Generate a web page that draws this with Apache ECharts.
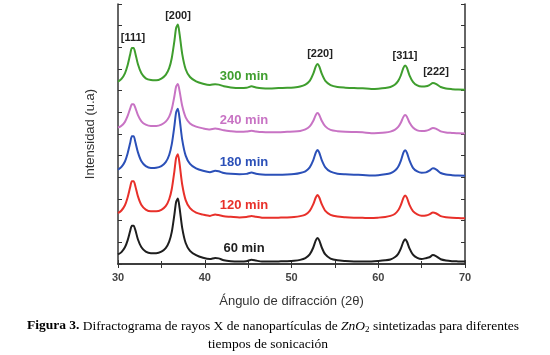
<!DOCTYPE html>
<html>
<head>
<meta charset="utf-8">
<script src="https://cdn.jsdelivr.net/npm/echarts@6/dist/echarts.min.js"></script>
<style>
  html, body { margin: 0; padding: 0; background: #fff; }
  #chart { width: 550px; height: 355px; }
</style>
</head>
<body>
<div id="chart"></div>
<script>
// 2theta grid (degrees)
var angle = [30, 30.4, 30.8, 31.1, 31.4, 31.6, 31.8, 32.0, 32.3, 32.7, 33.2, 33.8, 34.4, 35.0, 35.5, 35.9, 36.2, 36.5, 36.7, 36.9, 37.1, 37.4, 37.8, 38.3, 39.0, 39.8, 40.6, 41.2, 41.6, 42.2, 43.0, 44.0, 44.8, 45.4, 45.9, 46.6, 47.5, 48.5, 49.5, 50.3, 51.0, 51.6, 52.1, 52.5, 52.8, 53.0, 53.2, 53.5, 53.9, 54.5, 55.3, 56.2, 57.2, 58.2, 59.2, 60.0, 60.8, 61.4, 61.9, 62.3, 62.6, 62.9, 63.1, 63.3, 63.6, 64.0, 64.5, 65.0, 65.5, 65.9, 66.3, 66.7, 67.2, 67.8, 68.5, 69.2, 70];

// intensidades (u.a), ya desplazadas verticalmente como en la figura
var min60 = [0.44, 0.55, 0.77, 1.08, 1.52, 1.77, 1.77, 1.57, 1.13, 0.77, 0.57, 0.5, 0.5, 0.57, 0.73, 1.03, 1.48, 2.28, 2.86, 3.02, 2.58, 1.67, 0.97, 0.61, 0.41, 0.29, 0.23, 0.28, 0.26, 0.17, 0.13, 0.12, 0.13, 0.2, 0.16, 0.11, 0.11, 0.12, 0.13, 0.15, 0.19, 0.27, 0.44, 0.75, 1.09, 1.2, 1.09, 0.75, 0.44, 0.25, 0.17, 0.14, 0.12, 0.115, 0.12, 0.14, 0.17, 0.21, 0.31, 0.47, 0.71, 1.03, 1.14, 1.04, 0.72, 0.43, 0.28, 0.23, 0.27, 0.31, 0.41, 0.35, 0.22, 0.16, 0.13, 0.12, 0.11];
var min120 = [2.35, 2.47, 2.71, 3.06, 3.54, 3.82, 3.82, 3.59, 3.12, 2.72, 2.51, 2.43, 2.43, 2.5, 2.67, 2.99, 3.46, 4.28, 4.9, 5.07, 4.62, 3.67, 2.95, 2.58, 2.37, 2.28, 2.22, 2.29, 2.26, 2.2, 2.18, 2.15, 2.17, 2.22, 2.18, 2.14, 2.13, 2.14, 2.15, 2.17, 2.21, 2.28, 2.45, 2.75, 3.07, 3.18, 3.07, 2.75, 2.45, 2.27, 2.19, 2.16, 2.14, 2.13, 2.12, 2.14, 2.17, 2.22, 2.31, 2.48, 2.72, 3.05, 3.16, 3.06, 2.73, 2.44, 2.29, 2.23, 2.24, 2.29, 2.38, 2.33, 2.21, 2.16, 2.13, 2.12, 2.11];
var min180 = [4.35, 4.48, 4.73, 5.09, 5.58, 5.9, 5.9, 5.63, 5.15, 4.74, 4.52, 4.43, 4.44, 4.52, 4.7, 5.03, 5.53, 6.36, 7.0, 7.17, 6.71, 5.74, 5.0, 4.62, 4.41, 4.3, 4.24, 4.3, 4.28, 4.2, 4.16, 4.14, 4.16, 4.22, 4.17, 4.13, 4.12, 4.12, 4.13, 4.15, 4.2, 4.28, 4.46, 4.78, 5.14, 5.26, 5.14, 4.78, 4.46, 4.26, 4.17, 4.14, 4.12, 4.11, 4.09, 4.1, 4.14, 4.19, 4.3, 4.49, 4.76, 5.14, 5.25, 5.14, 4.78, 4.44, 4.27, 4.21, 4.23, 4.31, 4.42, 4.36, 4.2, 4.13, 4.1, 4.08, 4.07];
var min240 = [6.29, 6.38, 6.56, 6.82, 7.17, 7.37, 7.37, 7.21, 6.87, 6.58, 6.43, 6.37, 6.37, 6.43, 6.57, 6.8, 7.15, 7.74, 8.19, 8.31, 7.98, 7.3, 6.77, 6.49, 6.34, 6.26, 6.21, 6.25, 6.23, 6.17, 6.13, 6.1, 6.11, 6.15, 6.12, 6.09, 6.08, 6.08, 6.1, 6.11, 6.14, 6.21, 6.35, 6.6, 6.88, 6.97, 6.88, 6.6, 6.35, 6.19, 6.13, 6.1, 6.09, 6.08, 6.04, 6.05, 6.07, 6.11, 6.19, 6.33, 6.52, 6.79, 6.88, 6.8, 6.53, 6.3, 6.17, 6.14, 6.15, 6.2, 6.28, 6.24, 6.12, 6.07, 6.05, 6.03, 6.02];
var min300 = [8.41, 8.54, 8.8, 9.16, 9.67, 9.97, 9.97, 9.72, 9.22, 8.8, 8.57, 8.49, 8.48, 8.56, 8.73, 9.04, 9.51, 10.29, 10.89, 11.05, 10.61, 9.7, 8.99, 8.63, 8.43, 8.32, 8.26, 8.3, 8.28, 8.2, 8.15, 8.12, 8.13, 8.2, 8.15, 8.11, 8.1, 8.12, 8.13, 8.15, 8.19, 8.28, 8.45, 8.77, 9.12, 9.23, 9.12, 8.77, 8.45, 8.26, 8.17, 8.14, 8.12, 8.11, 8.08, 8.09, 8.12, 8.17, 8.27, 8.45, 8.7, 9.05, 9.16, 9.06, 8.71, 8.41, 8.24, 8.19, 8.2, 8.26, 8.35, 8.3, 8.17, 8.1, 8.07, 8.05, 8.04];

var seriesNames = ['60 min', '120 min', '180 min', '240 min', '300 min'];
var seriesColors = ['#1e1e1e', '#e8302a', '#2b50b8', '#c873c4', '#3f9e2e'];
var peakLabels = ['[111]', '[200]', '[220]', '[311]', '[222]'];

var chart = echarts.init(document.getElementById('chart'));

function pairs(ys) {
    return angle.map(function (a, i) { return [a, ys[i]]; });
}
var allData = [min60, min120, min180, min240, min300];

var axisCol = '#333';
var option = {
    animation: false,
    grid: { left: 118, top: 4, width: 347, height: 260 },
    xAxis: [
        {
            type: 'value', min: 30, max: 70, interval: 10, position: 'bottom',
            axisLine: { lineStyle: { color: axisCol, width: 1.5 } },
            axisTick: { inside: true, length: 4, lineStyle: { color: axisCol } },
            minorTick: { show: true, splitNumber: 2, length: 3, lineStyle: { color: axisCol } },
            axisLabel: { color: '#444', fontSize: 11, fontWeight: 'bold', fontFamily: 'Liberation Sans', margin: 8 },
            splitLine: { show: false },
            name: 'Ángulo de difracción (2θ)', nameLocation: 'middle', nameGap: 31,
            nameTextStyle: { color: '#333', fontSize: 13, fontFamily: 'Liberation Sans' }
        },
        {
            type: 'value', min: 30, max: 70, interval: 5, position: 'top',
            axisLine: { lineStyle: { color: axisCol, width: 1.5 } },
            axisTick: { inside: true, length: 4, lineStyle: { color: axisCol } },
            axisLabel: { show: false }, splitLine: { show: false }
        }
    ],
    yAxis: [
        {
            type: 'value', min: 0, max: 12, interval: 1, position: 'left',
            axisLine: { show: true, lineStyle: { color: axisCol, width: 1.5 } },
            axisTick: { show: true, inside: true, length: 4, lineStyle: { color: axisCol } },
            axisLabel: { show: false }, splitLine: { show: false },
            name: 'Intensidad (u.a)', nameLocation: 'middle', nameGap: 21, nameRotate: 90,
            nameTextStyle: { color: '#333', fontSize: 13, fontFamily: 'Liberation Sans' }
        },
        {
            type: 'value', min: 0, max: 12, interval: 1, position: 'right',
            axisLine: { show: true, lineStyle: { color: axisCol, width: 1.5 } },
            axisTick: { show: true, inside: true, length: 4, lineStyle: { color: axisCol } },
            axisLabel: { show: false }, splitLine: { show: false }
        }
    ],
    series: allData.map(function (ys, k) {
        return {
            name: seriesNames[k], type: 'line', xAxisIndex: 0, yAxisIndex: 0,
            data: pairs(ys), showSymbol: false, smooth: 0.25,
            lineStyle: { color: seriesColors[k], width: 2 }
        };
    }),
    graphic: []
};

// etiquetas de tiempo
var timeY = [248, 205, 162, 120, 76];
seriesNames.forEach(function (n, k) {
    option.graphic.push({
        type: 'text', x: 244, y: timeY[k],
        style: { text: n, fill: seriesColors[k], font: 'bold 13px "Liberation Sans"', textAlign: 'center', textVerticalAlign: 'middle' }
    });
});

// índices de Miller
var peakPos = [[133, 38], [178, 16], [320, 54], [405, 56], [436, 72]];
peakLabels.forEach(function (t, k) {
    option.graphic.push({
        type: 'text', x: peakPos[k][0], y: peakPos[k][1],
        style: { text: t, fill: '#222', font: 'bold 11px "Liberation Sans"', textAlign: 'center', textVerticalAlign: 'middle' }
    });
});

// pie de figura
option.graphic.push({
    type: 'text', x: 273, y: 326,
    style: {
        text: '{b|Figura 3.}{n| Difractograma de rayos X de nanopartículas de }{i|ZnO}{s|2}{n| sintetizadas para diferentes}',
        textAlign: 'center', textVerticalAlign: 'middle', fill: '#000',
        rich: {
            b: { fontFamily: 'Liberation Serif', fontSize: 13.5, fontWeight: 'bold', fill: '#000' },
            n: { fontFamily: 'Liberation Serif', fontSize: 13.5, fill: '#000' },
            i: { fontFamily: 'Liberation Serif', fontSize: 13.5, fontStyle: 'italic', fill: '#000' },
            s: { fontFamily: 'Liberation Serif', fontSize: 9, fill: '#000', padding: [8, 0, 0, 0] }
        }
    }
});
option.graphic.push({
    type: 'text', x: 268, y: 344,
    style: { text: 'tiempos de sonicación', fill: '#000', font: '13.5px "Liberation Serif"', textAlign: 'center', textVerticalAlign: 'middle' }
});

chart.setOption(option);
</script>
</body>
</html>
